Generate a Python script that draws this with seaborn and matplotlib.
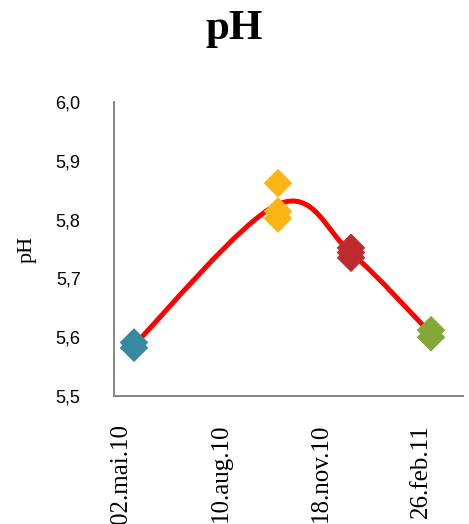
import matplotlib
matplotlib.use("Agg")
import matplotlib.pyplot as plt
import matplotlib.dates as mdates
from matplotlib.path import Path
from matplotlib.patches import PathPatch
import numpy as np
import pandas as pd
import seaborn as sns

# Sampling campaigns and measured pH values
campaigns = ["mai", "okt", "des", "mar"]
campaign_dates = ["2010-05-15", "2010-10-06", "2010-12-18", "2011-03-08"]
ph_mai = [5.591, 5.582]
ph_okt = [5.862, 5.814, 5.802]
ph_des = [5.752, 5.744, 5.735]
ph_mar = [5.612, 5.600]
campaign_colors = ["#37899F", "#FDB515", "#BE2B2F", "#83A836"]

# Axis settings
x_tick_dates = ["2010-05-02", "2010-08-10", "2010-11-18", "2011-02-26"]
x_tick_labels = ["02.mai.10", "10.aug.10", "18.nov.10", "26.feb.11"]
x_limits = ["2010-04-25", "2011-04-09"]
y_ticks = [5.5, 5.6, 5.7, 5.8, 5.9, 6.0]
y_tick_labels = ["5,5", "5,6", "5,7", "5,8", "5,9", "6,0"]

values = [ph_mai, ph_okt, ph_des, ph_mar]
df = pd.DataFrame({
    "kampanje": np.repeat(campaigns, [len(v) for v in values]),
    "dato": pd.to_datetime(np.repeat(campaign_dates, [len(v) for v in values])),
    "pH": np.concatenate(values),
})

sns.set_theme(style="white")
plt.rcParams["font.family"] = ["Liberation Serif", "DejaVu Serif"]
plt.rcParams["text.color"] = "black"
plt.rcParams["xtick.color"] = "black"
plt.rcParams["ytick.color"] = "black"
plt.rcParams["axes.labelcolor"] = "black"

fig = plt.figure(figsize=(4.69, 5.24), dpi=100)
ax = fig.add_axes([114 / 469, 1 - 396 / 524, 349 / 469, 294 / 524])

# Smoothed line through the campaign means (Catmull-Rom style Bezier)
means = df.groupby("kampanje", sort=False).agg(dato=("dato", "first"), pH=("pH", "mean"))
px = mdates.date2num(means["dato"].dt.to_pydatetime())
py = means["pH"].to_numpy()
pts = np.column_stack([px, py])
verts = [pts[0]]
codes = [Path.MOVETO]
n = len(pts)
for i in range(n - 1):
    p0 = pts[max(i - 1, 0)]
    p1 = pts[i]
    p2 = pts[i + 1]
    p3 = pts[min(i + 2, n - 1)]
    c1 = p1 + (p2 - p0) / 6.0
    c2 = p2 - (p3 - p1) / 6.0
    verts += [c1, c2, p2]
    codes += [Path.CURVE4] * 3
ax.add_patch(PathPatch(Path(verts, codes), facecolor="none", edgecolor="#FF0000",
                       lw=3.6, capstyle="round", joinstyle="round", zorder=2))

sns.scatterplot(data=df, x="dato", y="pH", hue="kampanje", palette=campaign_colors,
                marker="D", s=190, linewidth=0.8, legend=False, ax=ax, zorder=3)
ax.collections[-1].set_edgecolor(ax.collections[-1].get_facecolor())

ax.set_xlim(pd.to_datetime(x_limits[0]), pd.to_datetime(x_limits[1]))
ax.set_xticks(pd.to_datetime(x_tick_dates))
ax.set_xticklabels(x_tick_labels, rotation=90, fontsize=18,
                   family=["Liberation Serif"], va="top", ha="center", color="black")
ax.set_ylim(5.5, 6.0)
ax.set_yticks(y_ticks)
ax.set_yticklabels(y_tick_labels, fontsize=13, family=["Liberation Sans"], color="black")
ax.tick_params(axis="x", length=0, pad=20)
ax.tick_params(axis="y", length=0, pad=24)

ax.set_xlabel("")
ax.set_ylabel("pH", fontsize=16, family=["Liberation Serif"], color="black")
ax.yaxis.set_label_coords(-0.2206, 0.5)

for side in ["top", "right"]:
    ax.spines[side].set_visible(False)
for side in ["left", "bottom"]:
    ax.spines[side].set_color("#868686")
    ax.spines[side].set_linewidth(1.4)
ax.grid(False)

fig.suptitle("pH", x=0.5, y=1 - 29 / 524, va="center", fontsize=31,
             fontweight="bold", family=["Liberation Serif"], color="black")

fig.savefig("out.png", dpi=100)
